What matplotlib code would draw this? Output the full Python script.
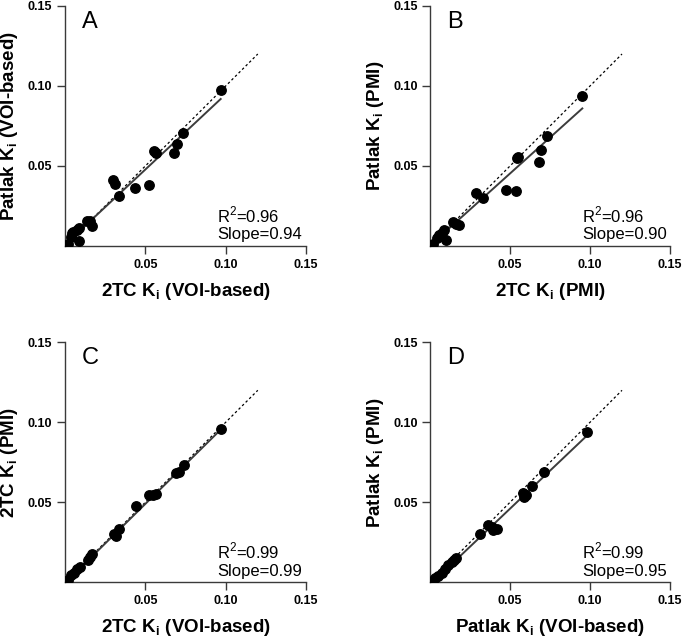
import matplotlib
matplotlib.use("Agg")
import matplotlib.pyplot as plt
import numpy as np

plt.rcParams['font.family'] = ['Liberation Sans', 'DejaVu Sans']
plt.rcParams['mathtext.fontset'] = 'custom'
plt.rcParams['mathtext.rm'] = 'Liberation Sans'
plt.rcParams['mathtext.bf'] = 'Liberation Sans:bold'

# ---- data ----
a_x = [0.002, 0.004, 0.0046, 0.005, 0.0073, 0.009, 0.0088, 0.0135, 0.0156, 0.017,
       0.0298, 0.031, 0.0333, 0.0437, 0.052, 0.0552, 0.0567, 0.068, 0.0698, 0.0735, 0.0969]
a_y = [0.001, 0.0054, 0.008, 0.0085, 0.010, 0.011, 0.003, 0.0156, 0.0158, 0.0125,
       0.041, 0.0388, 0.0313, 0.0365, 0.038, 0.0594, 0.058, 0.058, 0.0635, 0.0708, 0.0973]

b_x = [0.0017, 0.0042, 0.0058, 0.0073, 0.009, 0.0098, 0.0146, 0.0163, 0.018,
       0.0288, 0.0333, 0.0475, 0.0538, 0.0546, 0.0552, 0.0681, 0.0692, 0.0729, 0.0952]
b_y = [0.001, 0.0048, 0.0069, 0.0079, 0.010, 0.0037, 0.0152, 0.0138, 0.0129,
       0.0329, 0.0298, 0.035, 0.0346, 0.0548, 0.0558, 0.0527, 0.060, 0.0688, 0.094]

c_x = [0.002, 0.004, 0.0058, 0.0077, 0.0094, 0.0142, 0.0156, 0.0171, 0.0302, 0.0319,
       0.0335, 0.0444, 0.0523, 0.0548, 0.0569, 0.0688, 0.0708, 0.074, 0.0973]
c_y = [0.0015, 0.0046, 0.006, 0.0081, 0.0098, 0.014, 0.0156, 0.0177, 0.030, 0.029,
       0.0333, 0.0479, 0.0544, 0.0548, 0.0552, 0.0685, 0.0692, 0.0733, 0.0958]

d_x = [0.001, 0.003, 0.0052, 0.0077, 0.0094, 0.0115, 0.0135, 0.015, 0.016, 0.0313,
       0.0365, 0.0385, 0.0396, 0.0417, 0.0583, 0.059, 0.0598, 0.064, 0.0713, 0.0979]
d_y = [0.001, 0.0025, 0.004, 0.006, 0.0081, 0.0108, 0.0129, 0.014, 0.0154, 0.0302,
       0.0358, 0.0348, 0.0327, 0.0331, 0.056, 0.0535, 0.0546, 0.0604, 0.0692, 0.0942]

panel_letters = ['A', 'B', 'C', 'D']
x_labels = ['2TC K$_\\mathregular{i}$ (VOI-based)', '2TC K$_\\mathregular{i}$ (PMI)',
            '2TC K$_\\mathregular{i}$ (VOI-based)', 'Patlak K$_\\mathregular{i}$ (VOI-based)']
y_labels = ['Patlak K$_\\mathregular{i}$ (VOI-based)', 'Patlak K$_\\mathregular{i}$ (PMI)',
            '2TC K$_\\mathregular{i}$ (PMI)', 'Patlak K$_\\mathregular{i}$ (PMI)']
r2_values = ['0.96', '0.96', '0.99', '0.99']
slope_text = ['0.94', '0.90', '0.99', '0.95']
fit_slopes = [0.94, 0.90, 0.99, 0.95]
fit_intercepts = [0.0008, 0.0003, -0.0005, -0.0015]
identity_end = 0.12
ticks = [0.05, 0.10, 0.15]
tick_labels = ['0.05', '0.10', '0.15']

xs = [a_x, b_x, c_x, d_x]
ys = [a_y, b_y, c_y, d_y]

W, H = 685, 641
fig = plt.figure(figsize=(W / 100, H / 100), dpi=100)

# axes boxes in pixels: (left, right, bottom, top)
boxes = [(65, 306, 246, 6), (430, 670, 246, 6),
         (65, 306, 582.3, 342.3), (430, 670, 582.3, 342.3)]

spine_col = '#3a3a3a'
for i in range(4):
    l, r, b, t = boxes[i]
    ax = fig.add_axes([l / W, (H - b) / H, (r - l) / W, (b - t) / H])
    x = np.array(xs[i]); y = np.array(ys[i])
    ax.plot([0, identity_end], [0, identity_end], color='black', lw=0.9,
            ls=(0, (2.0, 2.0)), zorder=1)
    fx = np.array([x.min(), x.max()])
    ax.plot(fx, fit_slopes[i] * fx + fit_intercepts[i], color='#3c3c3c', lw=1.4, zorder=2)
    ax.plot(x, y, 'o', color='black', ms=6.8, mec='black', zorder=3)
    ax.set_xlim(0, 0.15)
    ax.set_ylim(0, 0.15)
    ax.set_xticks(ticks)
    ax.set_yticks(ticks)
    ax.set_xticklabels(tick_labels, fontsize=9, fontweight='bold')
    ax.set_yticklabels(tick_labels, fontsize=9, fontweight='bold')
    for s in ['top', 'right']:
        ax.spines[s].set_visible(False)
    for s in ['left', 'bottom']:
        ax.spines[s].set_color(spine_col)
        ax.spines[s].set_linewidth(1.0)
    ax.tick_params(direction='out', length=6, width=1.0, color=spine_col, pad=3)
    ax.set_xlabel(x_labels[i], fontsize=13.5, fontweight='bold', va='center')
    ax.xaxis.set_label_coords(0.5, -45 / (b - t))
    ax.set_ylabel(y_labels[i], fontsize=13.5, fontweight='bold', va='center')
    ax.yaxis.set_label_coords(-55 / (r - l), 0.5)
    ax.text(17 / (r - l), 1 - 16 / (b - t), panel_letters[i], transform=ax.transAxes,
            fontsize=17, ha='left', va='center')
    ax.text(152 / (r - l), 31 / (b - t), 'R$^\\mathregular{2}$=' + r2_values[i],
            transform=ax.transAxes, fontsize=12, ha='left', va='center')
    ax.text(152 / (r - l), 11 / (b - t), 'Slope=' + slope_text[i],
            transform=ax.transAxes, fontsize=12, ha='left', va='center')
    ax.set_facecolor('none')

fig.savefig('out.png', dpi=100, facecolor='white')
